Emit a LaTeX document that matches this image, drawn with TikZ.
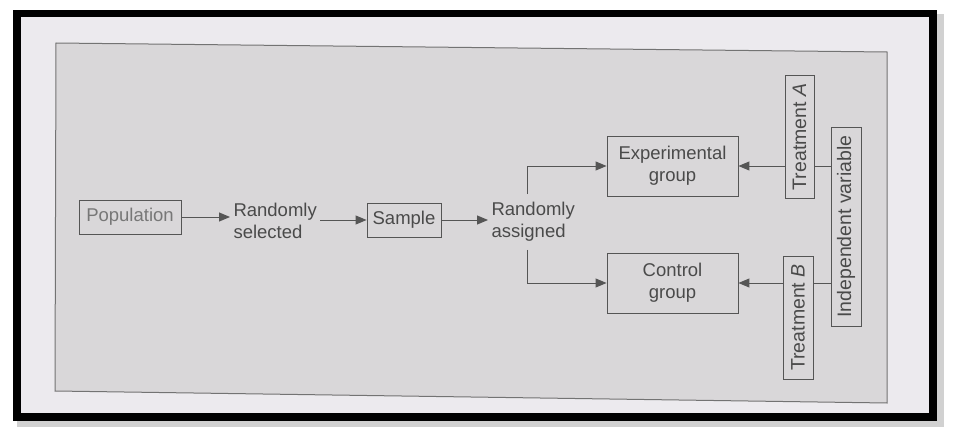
\documentclass[tikz,border=0pt]{standalone}
\usepackage{fontspec}
\setmainfont{Liberation Sans}
\usetikzlibrary{arrows.meta}
\definecolor{paper}{HTML}{ECEAEE}
\definecolor{panel}{HTML}{D9D7D9}
\definecolor{ink}{HTML}{4A4A4A}
\definecolor{lineclr}{HTML}{555555}
\begin{document}
\begin{tikzpicture}[x=1pt,y=-1pt,
  lbl/.style={font=\fontsize{18.5}{22}\selectfont, text=ink},
  vlbl/.style={font=\fontsize{19.5}{22}\selectfont, text=ink},
  box/.style={draw=lineclr, line width=0.9pt, inner sep=0pt, align=center},
  arr/.style={draw=lineclr, line width=1pt, -{Triangle[length=11pt,width=9pt]}},
  ln/.style={draw=lineclr, line width=1pt}]
\useasboundingbox (0,0) rectangle (954,428);
\fill[white] (0,0) rectangle (954,428);
% shadow and frame
\fill[black!18] (17,415) rectangle (944,427);
\fill[black!18] (931,14) rectangle (944,427);
\fill[black] (13,10) rectangle (937,421);
\fill[paper] (21,17) rectangle (929,413);
% grey panel
\filldraw[fill=panel, draw=black!55, line width=1pt]
  (56,43) -- (887,52) -- (887,403) -- (55,391) -- cycle;

% nodes
\node[box, lbl, text=ink!75, minimum width=102, minimum height=34] (pop) at (130,217) {Population};
\node[lbl, align=left, anchor=west] (rs) at (230,221) {Randomly\\selected};
\node[box, lbl, minimum width=74, minimum height=34] (sam) at (404,220) {Sample};
\node[lbl, align=left, anchor=west, inner ysep=8] (ra) at (488,222) {Randomly\\assigned};
\node[box, lbl, minimum width=131, minimum height=60] (exp) at (672.5,166) {Experimental\\group};
\node[box, lbl, minimum width=131, minimum height=60] (ctl) at (672.5,283) {Control\\group};
\node[box, vlbl, minimum width=29, minimum height=123] (ta) at (799.5,137) {\rotatebox{90}{Treatment \textit{A}}};
\node[box, vlbl, minimum width=30, minimum height=123] (tb) at (798,317.5) {\rotatebox{90}{Treatment \textit{B}}};
\node[box, vlbl, minimum width=30, minimum height=199] (iv) at (846,226.5) {\rotatebox{90}{Independent variable}};

% connectors
\draw[arr] (pop.east) -- (pop.east -| rs.west);
\draw[arr] (rs.east |- sam.west) -- (sam.west);
\draw[arr] (sam.east) -- (sam.east -| ra.west);
\draw[arr] ([xshift=-6pt]ra.north) |- (exp.west);
\draw[arr] ([xshift=-6pt]ra.south) |- (ctl.west);
\draw[arr] (ta.west |- exp.east) -- (exp.east);
\draw[ln] (ta.east |- exp.east) -- (iv.west |- exp.east);
\draw[arr] (tb.west |- ctl.east) -- (ctl.east);
\draw[ln] (tb.east |- ctl.east) -- (iv.west |- ctl.east);
\end{tikzpicture}
\end{document}
